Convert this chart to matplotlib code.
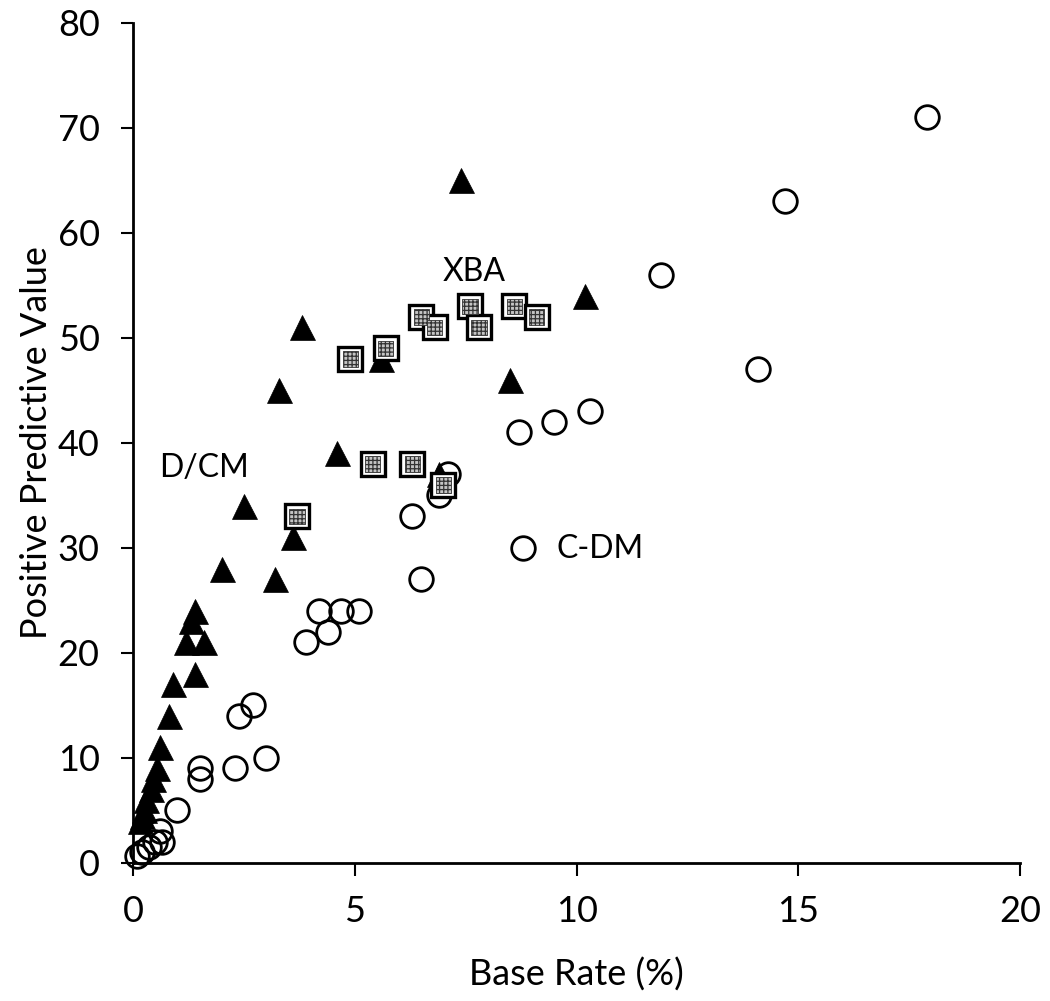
import numpy as np
import matplotlib
matplotlib.use('Agg')
from matplotlib import pyplot as plt

plt.rcParams['font.family'] = ['Lato', 'DejaVu Sans']
plt.rcParams['hatch.color'] = '#333333'
plt.rcParams['hatch.linewidth'] = 0.9

# C-DM (open circles)
cdm_x = [0.1, 0.2, 0.35, 0.5, 0.65, 0.6, 1.0, 1.5, 1.5, 2.3, 3.0, 2.4, 2.7, 3.9, 4.4,
         4.2, 4.7, 5.1, 6.5, 6.3, 6.9, 7.1, 8.8, 8.7, 9.5, 10.3, 11.9, 14.1, 14.7, 17.9]
cdm_y = [0.7, 1, 1.5, 2, 2, 3, 5, 8, 9, 9, 10, 14, 15, 21, 22,
         24, 24, 24, 27, 33, 35, 37, 30, 41, 42, 43, 56, 47, 63, 71]

# D/CM (filled triangles)
dcm_x = [0.15, 0.2, 0.25, 0.3, 0.4, 0.45, 0.55, 0.6, 0.8, 0.9, 1.4, 1.2, 1.3, 1.6,
         1.4, 2.0, 2.5, 3.2, 3.6, 3.3, 3.8, 4.6, 5.6, 6.9, 7.4, 8.5, 10.2]
dcm_y = [4, 4.5, 5, 6, 7, 8, 9, 11, 14, 17, 18, 21, 23, 21,
         24, 28, 34, 27, 31, 45, 51, 39, 48, 37, 65, 46, 54]

# XBA (patterned squares)
xba_x = [3.7, 4.9, 5.4, 5.7, 6.3, 6.5, 6.8, 7.0, 7.6, 7.8, 8.6, 9.1]
xba_y = [33, 48, 38, 49, 38, 52, 51, 36, 53, 51, 53, 52]

x_ticks = [0, 5, 10, 15, 20]
y_ticks = [0, 10, 20, 30, 40, 50, 60, 70, 80]

fig = plt.figure(figsize=(10.5, 10.01), dpi=100)
ax = fig.add_axes([0.1267, 0.1379, 0.8448, 0.8392])

ax.plot(cdm_x, cdm_y, 'o', ms=17, mfc='none', mec='black', mew=2, zorder=3, clip_on=False)
ax.plot(dcm_x, dcm_y, '^', ms=18, mfc='black', mec='black', mew=0.5, zorder=4, clip_on=False)
ax.plot(xba_x, xba_y, 's', ms=17, mfc='white', mec='black', mew=2.4, zorder=5, clip_on=False)
ax.scatter(xba_x, xba_y, marker='s', s=11 ** 2, facecolor='#c4c4c4', edgecolor='#333333',
           hatch='++++', linewidths=0.6, zorder=6, clip_on=False)

ax.text(7.7, 56.3, 'XBA', fontsize=23, ha='center', va='center')
ax.text(1.6, 37.6, 'D/CM', fontsize=23, ha='center', va='center')
ax.text(9.55, 29.9, 'C-DM', fontsize=23, ha='left', va='center')

ax.set_xlim(0, 20)
ax.set_ylim(0, 80)
ax.set_xticks(x_ticks)
ax.set_yticks(y_ticks)
ax.spines['top'].set_visible(False)
ax.spines['right'].set_visible(False)
ax.spines['left'].set_linewidth(2)
ax.spines['bottom'].set_linewidth(2)
ax.tick_params(axis='x', direction='out', length=9, width=1.5, labelsize=26, pad=14)
ax.tick_params(axis='y', direction='out', length=9, width=1.5, labelsize=26, pad=15)

ax.set_xlabel('Base Rate (%)', fontsize=26)
ax.set_ylabel('Positive Predictive Value', fontsize=26)
ax.xaxis.set_label_coords(0.5, -0.113)
ax.yaxis.set_label_coords(-0.09, 0.5)

plt.savefig('out.png', dpi=100)
plt.close()
